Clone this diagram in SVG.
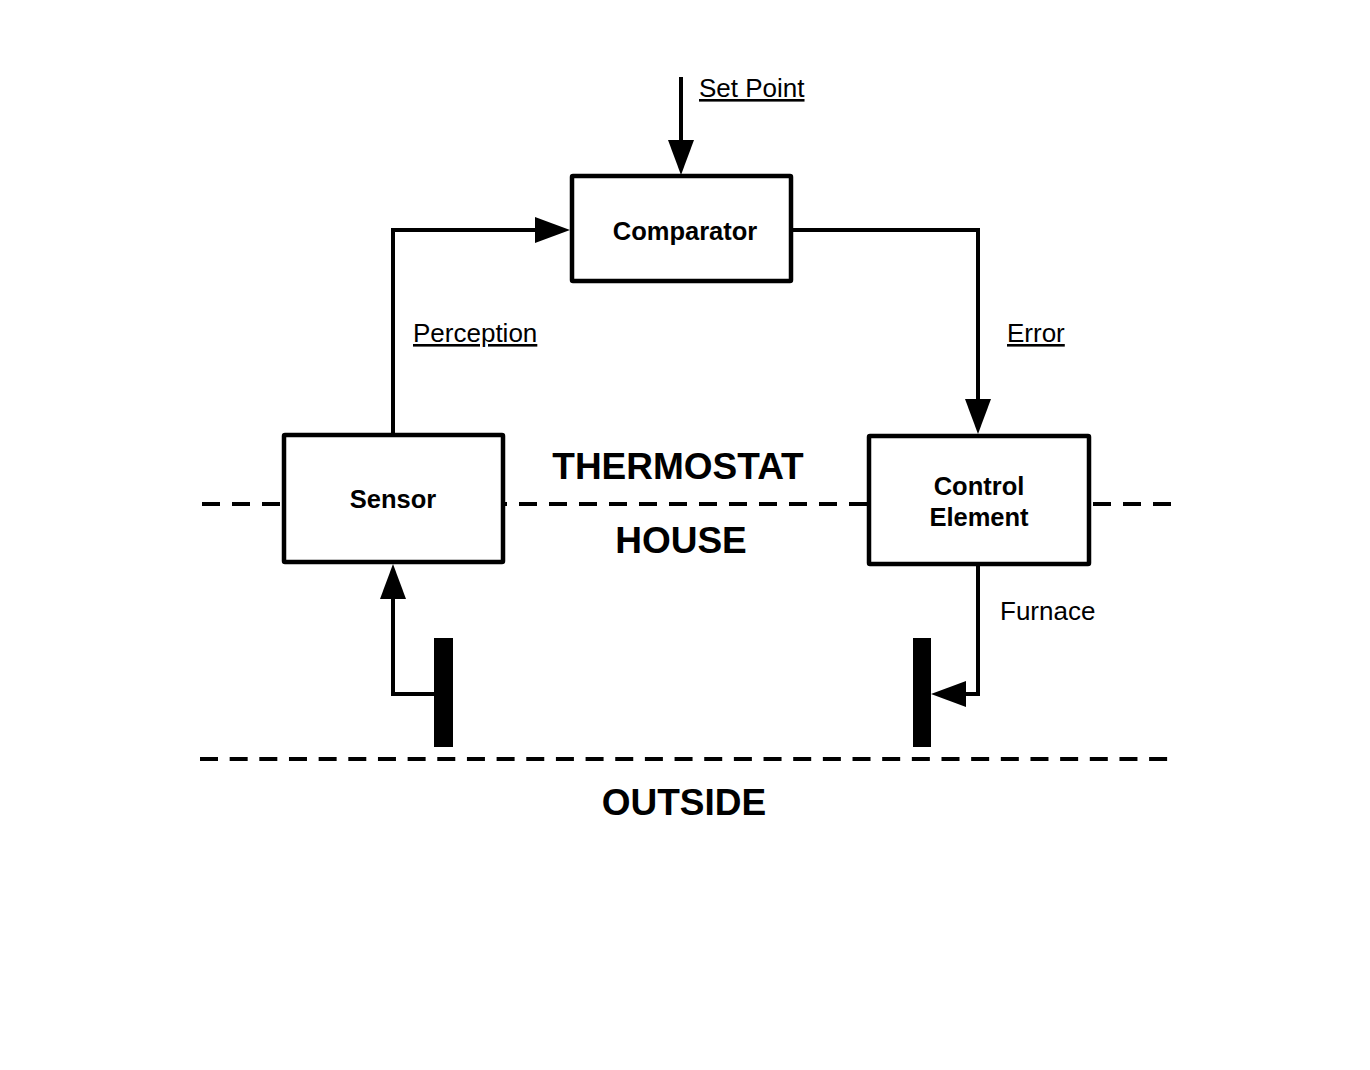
<svg xmlns="http://www.w3.org/2000/svg" width="1370" height="1070" viewBox="0 0 1370 1070">
  <style>
    .box { fill: #ffffff; stroke: #000000; stroke-width: 4.5; }
    .conn { fill: none; stroke: #000000; stroke-width: 4; stroke-linejoin: miter; }
    .dash1 { stroke: #000000; stroke-width: 4; stroke-dasharray: 18 12; }
    .dash2 { stroke: #000000; stroke-width: 4; stroke-dasharray: 18 11.66; }
    .bold { font-family: "Liberation Sans", Arial, sans-serif; font-weight: bold; fill: #000000; }
    .reg { font-family: "Liberation Sans", Arial, sans-serif; font-size: 26px; fill: #000000; }
    .ul { text-decoration: underline; }
    .big { font-size: 37px; }
    .node { font-size: 25.5px; text-anchor: middle; }
  </style>
  <defs>
    <marker id="arrow" viewBox="0 0 35 26" refX="25" refY="13" markerWidth="35" markerHeight="26" markerUnits="userSpaceOnUse" orient="auto">
      <path d="M0,0 L35,13 L0,26 z" fill="#000000"/>
    </marker>
  </defs>
  <rect x="0" y="0" width="1370" height="1070" fill="#ffffff"/>

  <g id="boundaries">
    <line class="dash1" x1="202" y1="504" x2="282" y2="504"/>
    <line class="dash1" x1="505" y1="504" x2="867" y2="504" stroke-dashoffset="16"/>
    <line class="dash1" x1="1093" y1="504" x2="1172" y2="504"/>
    <line class="dash2" x1="200" y1="759" x2="1168" y2="759"/>
  </g>

  <g id="connectors">
    <path class="conn" d="M681,77 V165" marker-end="url(#arrow)"/>
    <path class="conn" d="M393,435 V230 H560" marker-end="url(#arrow)"/>
    <path class="conn" d="M791,230 H978 V424" marker-end="url(#arrow)"/>
    <path class="conn" d="M435,694 H393 V574" marker-end="url(#arrow)"/>
    <path class="conn" d="M978,564 V694 H941" marker-end="url(#arrow)"/>
  </g>

  <g id="comparator">
    <rect class="box" x="572" y="176" width="219" height="105" rx="1"/>
    <text class="bold node" x="685" y="240">Comparator</text>
  </g>
  <g id="sensor">
    <rect class="box" x="284" y="435" width="219" height="127" rx="1"/>
    <text class="bold node" x="393" y="508">Sensor</text>
  </g>
  <g id="control-element">
    <rect class="box" x="869" y="436" width="220" height="128" rx="1"/>
    <text class="bold node" x="979" y="495">Control</text>
    <text class="bold node" x="979" y="526">Element</text>
  </g>
  <g id="house-input">
    <rect x="434" y="638" width="19" height="109" fill="#000000"/>
  </g>
  <g id="furnace-output">
    <rect x="913" y="638" width="18" height="109" fill="#000000"/>
  </g>

  <g id="labels">
    <text class="reg ul" x="699" y="97">Set Point</text>
    <text class="reg ul" x="413" y="342">Perception</text>
    <text class="reg ul" x="1007" y="342">Error</text>
    <text class="reg" x="1000" y="620">Furnace</text>
    <text class="bold big" x="678" y="479" text-anchor="middle">THERMOSTAT</text>
    <text class="bold big" x="681" y="553" text-anchor="middle">HOUSE</text>
    <text class="bold big" x="684" y="815" text-anchor="middle">OUTSIDE</text>
  </g>
</svg>
